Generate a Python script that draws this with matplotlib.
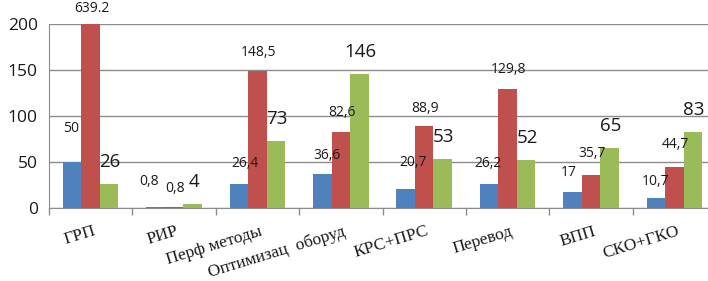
import matplotlib
matplotlib.use("Agg")
import matplotlib.pyplot as plt
import matplotlib.transforms as mtransforms
import numpy as np

categories = ["ГРП", "РИР", "Перф методы", "Оптимизац  оборуд", "КРС+ПРС", "Перевод", "ВПП", "СКО+ГКО"]
blue_vals = [50, 0.8, 26.4, 36.6, 20.7, 26.2, 17, 10.7]
red_vals = [639.2, 0.8, 148.5, 82.6, 88.9, 129.8, 35.7, 44.7]
green_vals = [26, 4, 73, 146, 53, 52, 65, 83]
blue_labels = ["50", "0,8", "26,4", "36,6", "20,7", "26,2", "17", "10,7"]
red_labels = ["639.2", "0,8", "148,5", "82,6", "88,9", "129,8", "35,7", "44,7"]
green_labels = ["26", "4", "73", "146", "53", "52", "65", "83"]
yticks = [0, 50, 100, 150, 200]

# label placement nudges (pixels), as moved in the original
blue_dx = [-1, -6, 6, 5, 7, -1, -4, 0]
blue_dy = [34, 26, 20, 19, 26, 20, 20, 17]
red_dy = [15, 19, 19, 20, 18, 19, 22, 22]

W, H = 708, 281
fig = plt.figure(figsize=(W / 100, H / 100), dpi=100)
ax = fig.add_axes([49 / W, 73 / H, 667 / W, 184 / H])

grid_c = "#8c8c8c"
cols = ["#4F81BD", "#C0504D", "#9BBB59"]
txt_c = "#1a1a1a"
bw = 0.222
x = np.arange(len(categories)) + 0.5
ymax = 200

xs_b = x - bw
xs_r = x
xs_g = x + bw
ax.bar(xs_b, blue_vals, width=bw, color=cols[0], zorder=3)
ax.bar(xs_r, red_vals, width=bw, color=cols[1], zorder=3)
ax.bar(xs_g, green_vals, width=bw, color=cols[2], zorder=3)

for xi, v, lab, dx, dy in zip(xs_b, blue_vals, blue_labels, blue_dx, blue_dy):
    ax.annotate(lab, (xi, min(v, ymax)), xytext=(dx, dy), textcoords="offset pixels",
                ha="center", va="center", fontsize=10, family="Open Sans",
                color=txt_c, annotation_clip=False)
for xi, v, lab, dy in zip(xs_r, red_vals, red_labels, red_dy):
    ax.annotate(lab, (xi, min(v, ymax)), xytext=(1, dy), textcoords="offset pixels",
                ha="center", va="center", fontsize=10, family="Open Sans",
                color=txt_c, annotation_clip=False)
for xi, v, lab in zip(xs_g, green_vals, green_labels):
    ax.annotate(lab, (xi, min(v, ymax)), xytext=(1, 22), textcoords="offset pixels",
                ha="center", va="center", fontsize=13.5, family="Open Sans",
                color=txt_c, annotation_clip=False)

ax.set_ylim(0, ymax)
ax.set_xlim(0, len(categories))
ax.set_yticks(yticks)
ax.set_yticklabels([str(t) for t in yticks], fontsize=12.5, family="Open Sans", color=txt_c)
ax.yaxis.grid(True, color=grid_c, linewidth=1.0, zorder=0)
ax.tick_params(axis="y", length=0, pad=8)

ax.set_xticks(np.arange(len(categories) + 1))
ax.set_xticklabels([])
ax.set_xticks(x, minor=True)
ax.set_xticklabels(categories, minor=True, rotation=17, ha="right", rotation_mode="anchor",
                   fontsize=12.5, family="Liberation Serif", color=txt_c)
ax.tick_params(axis="x", which="major", length=5, color=grid_c, width=1)
ax.tick_params(axis="x", which="minor", length=0, pad=11)
offset = mtransforms.ScaledTranslation(2 / 100, 0, fig.dpi_scale_trans)
for lab in ax.get_xticklabels(minor=True):
    lab.set_transform(lab.get_transform() + offset)

for s in ["top", "right"]:
    ax.spines[s].set_visible(False)
ax.spines["left"].set_color(grid_c)
ax.spines["bottom"].set_color(grid_c)

fig.savefig("out.png", dpi=100)
